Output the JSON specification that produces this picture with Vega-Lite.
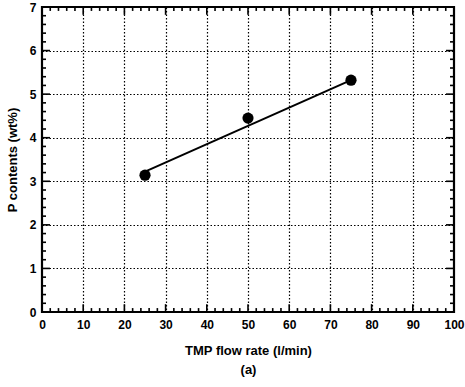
{
  "$schema": "https://vega.github.io/schema/vega-lite/v6.json",
  "autosize": "none",
  "width": 412,
  "height": 305,
  "padding": {"left": 42, "top": 7, "right": 11, "bottom": 75},
  "background": "white",
  "datasets": {
    "pts": [{"rate": 25, "p": 3.14}, {"rate": 50, "p": 4.45}, {"rate": 75, "p": 5.32}],
    "fit": [{"rate": 25, "p": 3.22}, {"rate": 75, "p": 5.32}],
    "xmaj": [{"rate": 10}, {"rate": 20}, {"rate": 30}, {"rate": 40}, {"rate": 50}, {"rate": 60}, {"rate": 70}, {"rate": 80}, {"rate": 90}],
    "xmin": [{"rate": 2}, {"rate": 4}, {"rate": 6}, {"rate": 8}, {"rate": 12}, {"rate": 14}, {"rate": 16}, {"rate": 18}, {"rate": 22}, {"rate": 24}, {"rate": 26}, {"rate": 28}, {"rate": 32}, {"rate": 34}, {"rate": 36}, {"rate": 38}, {"rate": 42}, {"rate": 44}, {"rate": 46}, {"rate": 48}, {"rate": 52}, {"rate": 54}, {"rate": 56}, {"rate": 58}, {"rate": 62}, {"rate": 64}, {"rate": 66}, {"rate": 68}, {"rate": 72}, {"rate": 74}, {"rate": 76}, {"rate": 78}, {"rate": 82}, {"rate": 84}, {"rate": 86}, {"rate": 88}, {"rate": 92}, {"rate": 94}, {"rate": 96}, {"rate": 98}],
    "ymaj": [{"p": 1}, {"p": 2}, {"p": 3}, {"p": 4}, {"p": 5}, {"p": 6}],
    "ymin": [{"p": 0.2}, {"p": 0.4}, {"p": 0.6}, {"p": 0.8}, {"p": 1.2}, {"p": 1.4}, {"p": 1.6}, {"p": 1.8}, {"p": 2.2}, {"p": 2.4}, {"p": 2.6}, {"p": 2.8}, {"p": 3.2}, {"p": 3.4}, {"p": 3.6}, {"p": 3.8}, {"p": 4.2}, {"p": 4.4}, {"p": 4.6}, {"p": 4.8}, {"p": 5.2}, {"p": 5.4}, {"p": 5.6}, {"p": 5.8}, {"p": 6.2}, {"p": 6.4}, {"p": 6.6}, {"p": 6.8}]
  },
  "config": {
    "view": {"stroke": "black", "strokeWidth": 2.2},
    "axis": {
      "labelFont": "Liberation Sans",
      "labelFontWeight": "bold",
      "labelFontSize": 12,
      "labelColor": "black",
      "titleFont": "Liberation Sans",
      "titleFontWeight": "bold",
      "titleFontSize": 13,
      "titleColor": "black",
      "domain": false,
      "ticks": false,
      "tickSize": 0,
      "gridColor": "black",
      "gridDash": [1.5, 2],
      "gridWidth": 1.2,
      "labelFlush": false
    },
    "rule": {"color": "black", "strokeWidth": 1.6, "strokeCap": "butt"}
  },
  "layer": [
    {
      "data": {"name": "fit"},
      "mark": {"type": "line", "color": "black", "strokeWidth": 2},
      "encoding": {
        "x": {
          "field": "rate", "type": "quantitative",
          "scale": {"domain": [0, 100], "nice": false, "zero": false},
          "axis": {
            "title": ["TMP flow rate (l/min)", "(a)"],
            "titleLineHeight": 19,
            "titlePadding": 14,
            "values": [0,10,20,30,40,50,60,70,80,90,100],
            "gridOpacity": {"condition": {"test": "datum.value > 0 && datum.value < 100", "value": 1}, "value": 0},
            "labelPadding": 7
          }
        },
        "y": {
          "field": "p", "type": "quantitative",
          "scale": {"domain": [0, 7], "nice": false, "zero": false},
          "axis": {
            "title": "P contents (wt%)",
            "titlePadding": 10,
            "values": [0,1,2,3,4,5,6,7],
            "gridOpacity": {"condition": {"test": "datum.value > 0 && datum.value < 7", "value": 1}, "value": 0},
            "labelPadding": 6
          }
        }
      }
    },
    {
      "data": {"name": "pts"},
      "mark": {"type": "point", "filled": true, "color": "black", "opacity": 1, "size": 125},
      "encoding": {
        "x": {"field": "rate", "type": "quantitative"},
        "y": {"field": "p", "type": "quantitative"}
      }
    },
    {
      "data": {"name": "xmaj"},
      "mark": {"type": "rule"},
      "encoding": {
        "x": {"field": "rate", "type": "quantitative"},
        "y": {"datum": 0, "type": "quantitative"},
        "y2": {"datum": 0.18}
      }
    },
    {
      "data": {"name": "xmaj"},
      "mark": {"type": "rule"},
      "encoding": {
        "x": {"field": "rate", "type": "quantitative"},
        "y": {"datum": 7, "type": "quantitative"},
        "y2": {"datum": 6.82}
      }
    },
    {
      "data": {"name": "xmin"},
      "mark": {"type": "rule"},
      "encoding": {
        "x": {"field": "rate", "type": "quantitative"},
        "y": {"datum": 0, "type": "quantitative"},
        "y2": {"datum": 0.09}
      }
    },
    {
      "data": {"name": "xmin"},
      "mark": {"type": "rule"},
      "encoding": {
        "x": {"field": "rate", "type": "quantitative"},
        "y": {"datum": 7, "type": "quantitative"},
        "y2": {"datum": 6.91}
      }
    },
    {
      "data": {"name": "ymaj"},
      "mark": {"type": "rule"},
      "encoding": {
        "y": {"field": "p", "type": "quantitative"},
        "x": {"datum": 0, "type": "quantitative"},
        "x2": {"datum": 1.95}
      }
    },
    {
      "data": {"name": "ymaj"},
      "mark": {"type": "rule"},
      "encoding": {
        "y": {"field": "p", "type": "quantitative"},
        "x": {"datum": 100, "type": "quantitative"},
        "x2": {"datum": 98.05}
      }
    },
    {
      "data": {"name": "ymin"},
      "mark": {"type": "rule"},
      "encoding": {
        "y": {"field": "p", "type": "quantitative"},
        "x": {"datum": 0, "type": "quantitative"},
        "x2": {"datum": 0.97}
      }
    },
    {
      "data": {"name": "ymin"},
      "mark": {"type": "rule"},
      "encoding": {
        "y": {"field": "p", "type": "quantitative"},
        "x": {"datum": 100, "type": "quantitative"},
        "x2": {"datum": 99.03}
      }
    }
  ]
}
